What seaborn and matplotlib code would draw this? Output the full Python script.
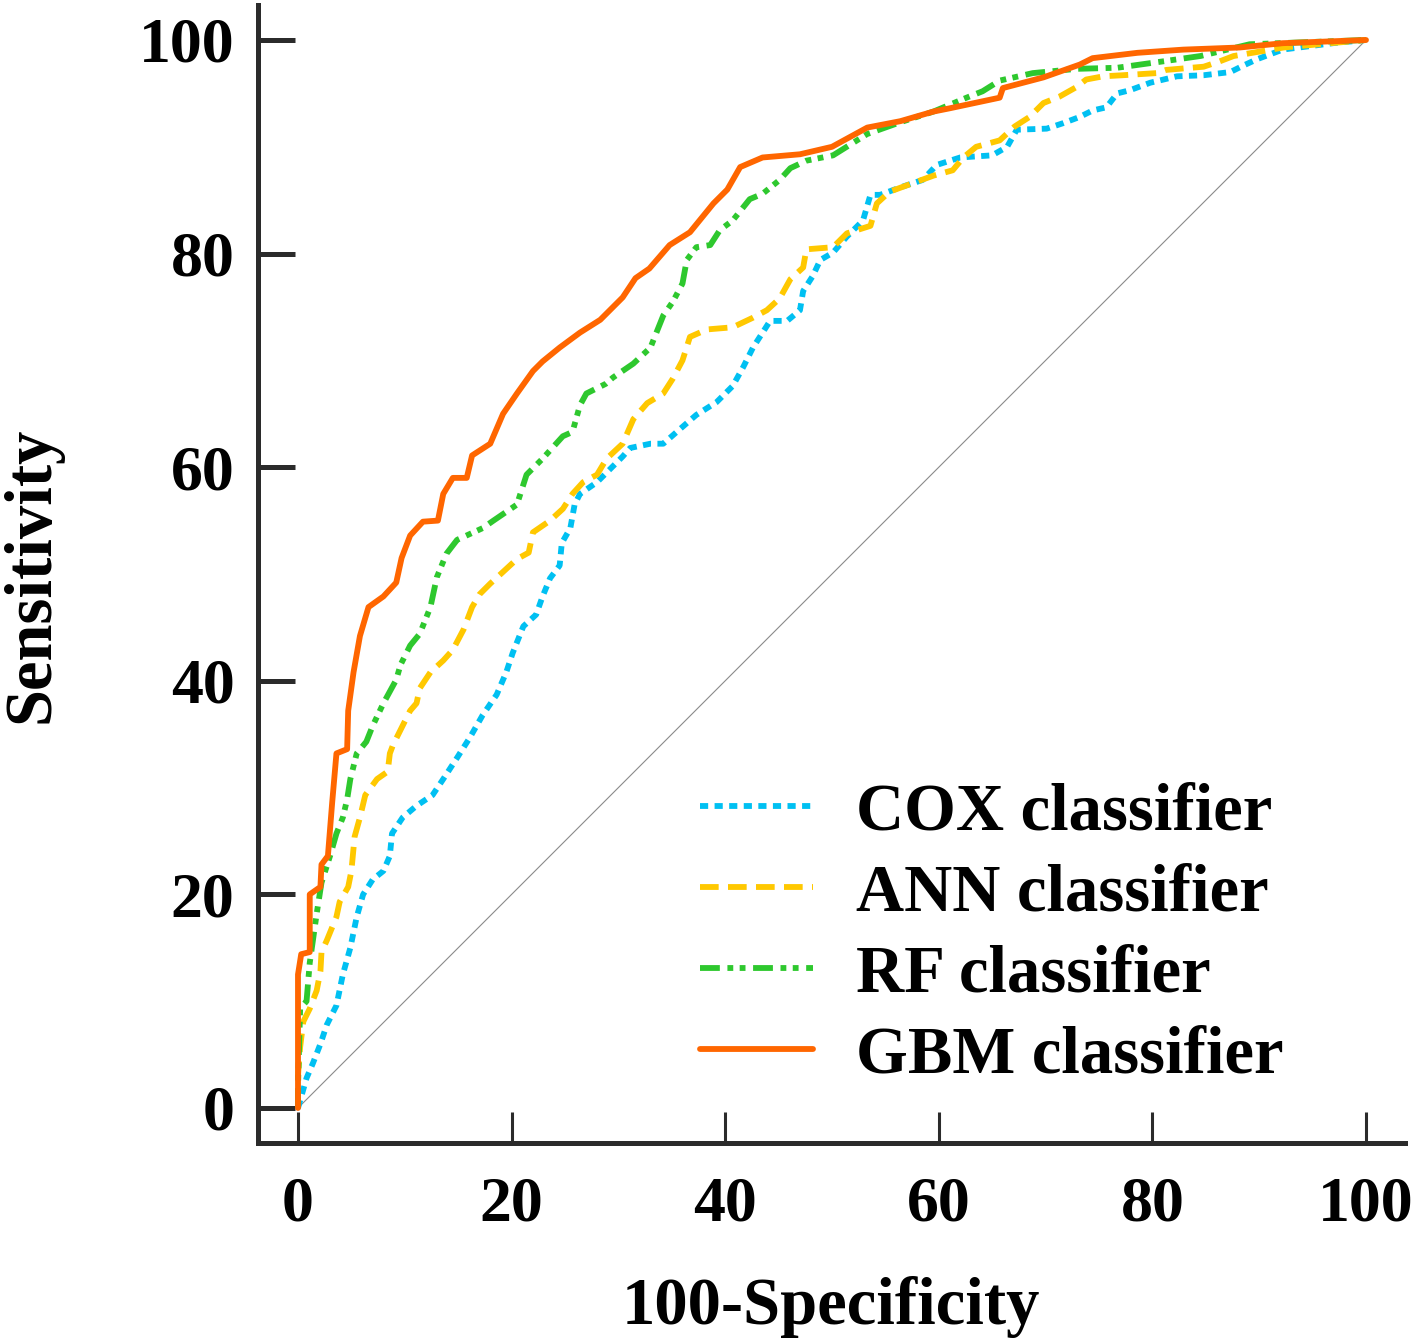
import numpy as np
import pandas as pd
import seaborn as sns
from matplotlib import pyplot as plt

# ROC points (100-Specificity, Sensitivity)
cox_x = [0, 0.2, 0.8, 1.4, 2.1, 2.7, 3.6, 4.2, 4.9, 5.5, 6.1, 7.0, 8.0, 8.6, 8.8, 9.8, 11.1, 12.6, 13.6,
         14.9, 16.1, 17.3, 18.6, 19.5, 20.1, 21.1, 22.3, 22.9, 23.6, 24.5, 24.7, 25.5, 25.9, 26.4, 28.0,
         29.2, 30.4, 31.1, 33.0, 34.2, 35.8, 37.3, 39.2, 40.7, 41.7, 42.6, 43.5, 44.2, 45.8, 47.0, 47.3,
         48.2, 48.9, 50.1, 51.4, 52.9, 53.6, 54.5, 56.4, 58.5, 59.8, 62.0, 65.0, 66.4, 67.3, 70.1, 71.6,
         73.2, 74.4, 75.7, 76.7, 77.9, 79.8, 82.3, 84.8, 87.3, 88.5, 89.8, 92.2, 96.9, 100]
cox_y = [0, 0.7, 2.8, 4.2, 6.0, 7.8, 9.6, 12.5, 15.0, 17.9, 20.0, 21.4, 22.2, 23.6, 25.7, 27.2, 28.3, 29.3, 30.8,
         32.8, 34.7, 36.8, 38.7, 40.8, 42.6, 45.1, 46.2, 47.9, 49.6, 50.8, 52.9, 54.3, 56.5, 57.5, 58.6,
         59.8, 61.0, 61.8, 62.2, 62.2, 63.6, 64.9, 66.1, 67.6, 69.4, 71.2, 72.6, 73.7, 73.7, 74.7, 76.5,
         77.9, 79.4, 80.1, 81.6, 83.1, 85.5, 85.5, 86.2, 86.9, 88.3, 89.0, 89.2, 90.0, 91.6, 91.7, 92.2,
         92.8, 93.4, 93.7, 95.0, 95.3, 96.0, 96.6, 96.7, 97.0, 97.6, 98.2, 99.1, 99.7, 100]

ann_x = [0, 0, 0.2, 0.5, 1.1, 1.75, 2.1, 2.2, 2.7, 3.6, 3.9, 4.7, 5.0, 5.3, 5.8, 6.3, 7.4, 8.4, 8.6, 8.9,
         9.8, 10.5, 11.1, 11.4, 12.4, 13.6, 14.5, 15.5, 16.3, 17.0, 18.0, 19.2, 20.5, 21.6, 22.0, 23.6,
         24.8, 25.7, 26.7, 28.0, 28.9, 30.4, 31.4, 32.7, 34.2, 35.1, 36.0, 36.7, 38.3, 40.7, 42.6, 43.9,
         45.1, 46.1, 47.3, 47.6, 50.1, 51.4, 53.6, 54.2, 55.4, 57.3, 59.5, 61.3, 62.3, 63.5, 65.7, 67.1,
         68.5, 69.8, 71.3, 72.9, 73.8, 75.4, 77.2, 80.4, 81.3, 84.8, 86.3, 87.6, 92.3, 100]
ann_y = [0, 3.0, 5.7, 8.1, 9.3, 11.0, 12.8, 14.6, 15.7, 17.9, 19.3, 20.7, 22.2, 25.4, 27.2, 29.3, 30.8, 31.5, 33.2, 34.0,
         35.8, 37.2, 37.9, 39.3, 40.8, 41.9, 42.9, 44.8, 46.9, 48.1, 49.1, 50.2, 51.4, 52.0, 53.9, 55.0,
         56.1, 57.5, 58.6, 59.3, 60.8, 62.2, 64.5, 66.0, 66.9, 68.3, 70.0, 72.2, 72.9, 73.1, 74.0, 74.7,
         75.8, 77.6, 78.7, 80.4, 80.6, 81.9, 82.6, 84.7, 85.8, 86.5, 87.3, 87.8, 89.0, 90.0, 90.6, 91.9,
         92.8, 94.1, 94.7, 95.6, 96.3, 96.6, 96.7, 96.9, 97.2, 97.5, 98.0, 98.5, 99.3, 100]

rf_x = [0, 0, 0.2, 0.8, 1.1, 1.75, 2.2, 3.0, 3.6, 4.2, 4.6, 4.9, 5.5, 6.4, 7.0, 8.0, 8.6, 9.2, 9.6, 10.5,
        11.4, 12.4, 13.0, 13.9, 14.9, 17.3, 18.3, 20.5, 21.4, 22.9, 24.8, 25.7, 26.4, 27.0, 28.8, 29.5,
        31.4, 33.0, 34.2, 35.1, 36.0, 36.4, 37.3, 38.6, 39.5, 40.7, 42.3, 43.5, 45.1, 46.1, 47.6, 50.1,
        53.3, 56.4, 59.5, 62.6, 64.1, 65.7, 68.8, 72.9, 76.7, 81.0, 84.5, 89.1, 100]
rf_y = [0, 2.0, 9.3, 10.0, 13.6, 18.2, 21.1, 23.6, 25.7, 27.2, 28.9, 30.8, 33.2, 34.3, 35.8, 37.9, 39.0, 40.1, 41.5, 43.3,
        44.4, 46.9, 49.7, 51.9, 53.2, 54.3, 55.0, 56.5, 59.3, 60.8, 62.9, 63.3, 65.8, 66.9, 67.8, 68.4,
        69.7, 71.2, 74.2, 75.5, 77.2, 79.4, 80.6, 80.8, 82.2, 83.1, 85.1, 85.6, 86.9, 88.0, 88.7, 89.2,
        91.2, 92.3, 93.3, 94.6, 95.2, 96.2, 96.9, 97.3, 97.4, 98.0, 98.5, 99.6, 100]

gbm_x = [0, 0, 0.3, 1.1, 1.1, 2.1, 2.2, 2.8, 3.2, 3.6, 4.6, 4.7, 5.2, 5.8, 6.6, 8.0, 9.2, 9.7, 10.5, 11.7,
         13.1, 13.6, 14.5, 15.8, 16.3, 18.0, 19.2, 20.5, 22.0, 22.9, 24.5, 26.4, 28.3, 30.4, 31.6, 32.9,
         34.8, 36.7, 38.9, 40.2, 41.4, 43.5, 47.0, 50.0, 53.3, 56.4, 59.5, 61.0, 65.7, 66.0, 69.8, 73.2,
         74.4, 78.6, 82.9, 88.2, 92.2, 100]
gbm_y = [0, 12.5, 14.4, 14.6, 20.0, 20.7, 22.8, 23.6, 28.6, 33.2, 33.6, 37.2, 40.8, 44.2, 46.9, 47.9, 49.2, 51.5, 53.6, 54.9,
         55.0, 57.5, 59.0, 59.0, 61.1, 62.2, 65.0, 66.9, 69.0, 69.9, 71.2, 72.6, 73.8, 75.9, 77.7, 78.6,
         80.8, 82.0, 84.7, 86.0, 88.1, 89.0, 89.3, 90.0, 91.8, 92.4, 93.3, 93.6, 94.6, 95.5, 96.5, 97.7,
         98.3, 98.8, 99.1, 99.3, 99.7, 100]

labels = ['COX classifier', 'ANN classifier', 'RF classifier', 'GBM classifier']
colors = ['#00c0f2', '#ffc800', '#2ec82e', '#ff6600']
styles = [(0, (1.4, 1.1)), (0, (3.2, 1.6)), (0, (3.4, 1.3, 1.0, 1.1, 1.0, 1.3)), '-']
series_x = [cox_x, ann_x, rf_x, gbm_x]
series_y = [cox_y, ann_y, rf_y, gbm_y]

sns.set_style('ticks')
plt.rcParams['font.family'] = ['Liberation Serif', 'DejaVu Serif']
plt.rcParams['font.weight'] = 'bold'
plt.rcParams['text.color'] = 'black'
plt.rcParams['xtick.labelcolor'] = 'black'
plt.rcParams['ytick.labelcolor'] = 'black'
plt.rcParams['axes.labelcolor'] = 'black'

fig = plt.figure(figsize=(14.18, 13.41), dpi=100)
ax = fig.add_axes([258 / 1418, 1 - 1143 / 1341, (1405 - 258) / 1418, (1143 - 5) / 1341])

# chance line
ax.plot([0, 100], [0, 100], color='#8a8a8a', lw=0.8, zorder=1)

# draw GBM last so it sits on top
for i in [0, 1, 2, 3]:
    df = pd.DataFrame({'x': series_x[i], 'y': series_y[i]})
    sns.lineplot(data=df, x='x', y='y', ax=ax, sort=False, estimator=None,
                 color=colors[i], linestyle=styles[i], lw=4.2, label=labels[i],
                 zorder=2 + i)

px = 100 / 1068
ax.set_xlim(-(298 - 258) * px, 100 + (1405 - 1366) * px)
ax.set_ylim(-(1143 - 1108) * px, 100 + (40 - 5) * px)
ax.set_xticks([0, 20, 40, 60, 80, 100])
ax.set_yticks([0, 20, 40, 60, 80, 100])

for side in ['top', 'right']:
    ax.spines[side].set_visible(False)
for side in ['left', 'bottom']:
    ax.spines[side].set_linewidth(3.6)
    ax.spines[side].set_color('#2b2b2b')
    ax.spines[side].set_capstyle('projecting')

ax.tick_params(axis='y', direction='in', length=26.5, width=3.6, color='#2b2b2b',
               labelsize=46, pad=17, labelcolor='black')
ax.tick_params(axis='x', direction='in', length=22, width=2.2, color='#2b2b2b',
               labelsize=46, pad=24, labelcolor='black')
for lab in ax.get_xticklabels() + ax.get_yticklabels():
    lab.set_fontweight('bold')

ax.set_xlabel('100-Specificity', fontsize=48, fontweight='bold', color='black')
ax.set_ylabel('Sensitivity', fontsize=48, fontweight='bold', color='black')
ax.xaxis.set_label_coords((831 - 258) / 1147, -(1276 - 1143) / 1138)
ax.yaxis.set_label_coords(-(258 - 62) / 1147, (1143 - 575) / 1138)

leg = ax.legend(loc='lower left', bbox_to_anchor=(0.385, 0.05), frameon=False,
                fontsize=48, handlelength=1.7, handletextpad=0.65, labelspacing=0.3,
                borderpad=0, borderaxespad=0)
for t in leg.get_texts():
    t.set_color('black')

fig.savefig('out.png', dpi=100)
